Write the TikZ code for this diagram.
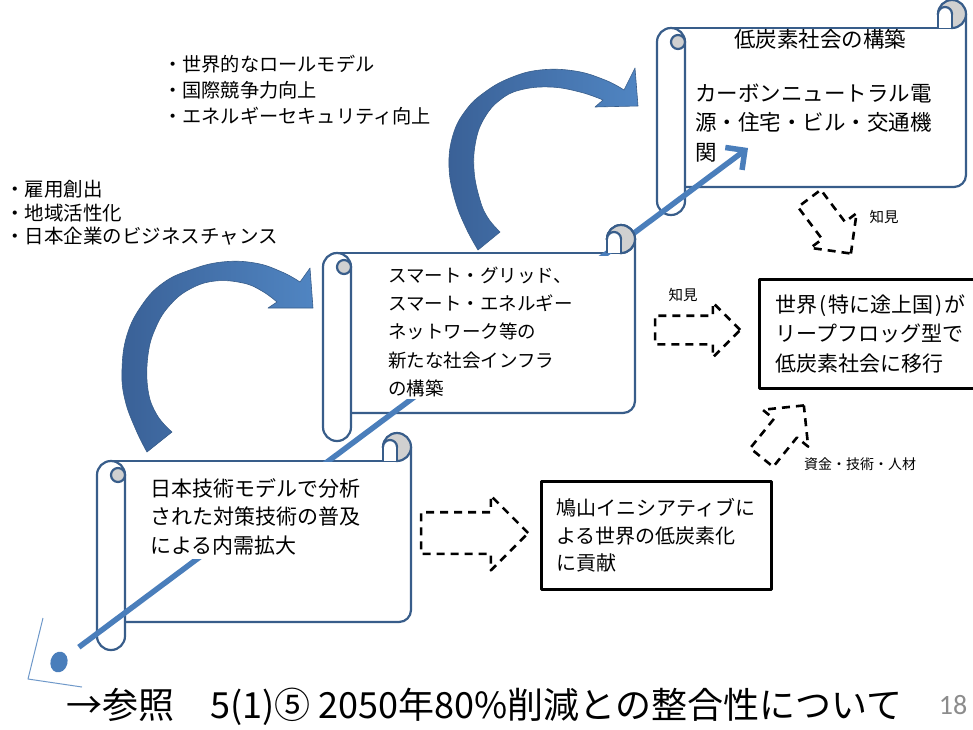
\documentclass[tikz,border=0pt]{standalone}
\usepackage{fontspec}
\setmainfont{Noto Sans CJK JP}
\newfontfamily\pagefont{Carlito}
\usetikzlibrary{arrows.meta, shapes.geometric, shapes.arrows}

\definecolor{scrollblue}{HTML}{385D8A}
\definecolor{rollgray}{HTML}{D0D0D0}
\definecolor{linkblue}{HTML}{4A7EBB}
\definecolor{arrowdark}{HTML}{3A6197}
\definecolor{arrowlight}{HTML}{5085C2}
\definecolor{pagegray}{HTML}{8C8C8C}

% top right roll of a scroll: x1, y0
\newcommand{\scrollroll}[2]{
  \filldraw[scrollline, fill=rollgray] ({#1-14},{#2+14}) circle[radius=14pt];
  \filldraw[scrollline, fill=white] ({#1-21},{#2+14}) circle[radius=7pt];
  \fill[white] ({#1-28},{#2+14}) rectangle ({#1-14},{#2+28});
  \draw[scrollline] ({#1-28},{#2+14}) -- ({#1-28},{#2+28});
  \draw[scrollline] ({#1-14},{#2+14}) -- ({#1-14},{#2+28});
}
% whole scroll: x0, y0, x1, y1
\newcommand{\scrollbody}[4]{
  \fill[white] ({#1+14},{#2+28}) -- ({#3-14},{#2+28}) -- ({#3-14},{#2+14})
    -- ({#3},{#2+14}) -- ({#3},{#4-28}) -- ({#1+14},{#4-28}) -- cycle;
  \draw[scrollline] ({#1+14},{#2+28}) -- ({#3-14},{#2+28});
  \draw[scrollline, rounded corners=12pt] ({#3},{#2+14}) -- ({#3},{#4-28}) -- ({#1+28},{#4-28});
  \scrollroll{#3}{#2}
  \filldraw[scrollline, fill=white, rounded corners=13.9pt] (#1,{#2+28}) rectangle ({#1+28},#4);
  \filldraw[scrollline, fill=rollgray] ({#1+21},{#2+42}) circle[radius=7pt];
}

\begin{document}
\begin{tikzpicture}[x=1pt, y=-1pt, line join=round,
    scrollline/.style={draw=scrollblue, line width=2.2pt},
    scrolltext/.style={anchor=north west, fill=white, inner xsep=#1, inner ysep=0pt, align=left},
    curvearrow/.style={left color=arrowdark, right color=arrowlight, draw=scrollblue, line width=0.6pt},
    linkline/.style={linkblue, line width=5.5pt, shorten <=15pt, -{Straight Barb[length=14pt,width=28pt]}},
    resultbox/.style={anchor=north west, draw=black, line width=2.5pt, fill=white, inner xsep=16pt, align=left},
    dasharrow/.style={single arrow, draw=black, line width=2.6pt, dash pattern=on 8pt off 6pt,
      single arrow tip angle=90, single arrow head indent=0pt, inner xsep=0pt, minimum width=0pt, anchor=tip},
    smalltext/.style={font=\fontsize{14.5}{16}\selectfont, inner sep=0pt}]
\useasboundingbox (0,0) rectangle (973,729);

% define the scrolls
\scrollbody{657}{0}{966}{215}
\scrollbody{323}{225}{635}{441}
\scrollbody{97}{433}{411}{650}

% define the curved arrows
\path[curvearrow] plot[smooth, tension=0.7] coordinates {(147,452) (136,430) (125,400) (122,370) (127,335)
    (142,305) (163,283) (190,270) (222,262) (255,263) (282,272) (300,282)}
  -- (310,268) -- (313,308) -- (268,308)
  -- plot[smooth, tension=0.7] coordinates {(277,302) (262,291) (243,283) (215,281) (190,289)
    (170,305) (156,327) (148,355) (148,390) (157,415) (172,432)} -- cycle;
\path[curvearrow] plot[smooth, tension=0.7] coordinates {(478,250) (466,228) (455,200) (449,167) (453,135)
    (466,110) (485,92) (510,78) (540,70) (575,71) (605,80) (624,90)}
  -- (635,68) -- (638,106) -- (595,107)
  -- plot[smooth, tension=0.7] coordinates {(603,100) (580,92) (550,87) (520,90) (500,100)
    (485,117) (476,140) (474,170) (480,200) (488,218) (500,232)} -- cycle;

% define the link
\node[ellipse, fill=linkblue, inner sep=0pt, minimum width=17pt, minimum height=21pt, rotate=-15] (origin) at (59,662) {};
\coordinate (goal) at (748,148);
\draw[linkline] (origin) -- (goal);
\draw[linkblue!80, line width=1pt] (43,618) -- (28,679) -- (82,687);

% text on the scrolls
\node[scrolltext=10pt, text width=220pt, font=\fontsize{21}{28.5}\selectfont] (domestic) at (140,462)
  {\rule{0pt}{34pt}日本技術モデルで分析\\された対策技術の普及\\による内需拡大\rule[-6pt]{0pt}{6pt}};
\node[scrolltext=13pt, text width=224pt, font=\fontsize{18.5}{28.3}\selectfont] (infra) at (375,256)
  {\rule{0pt}{26pt}スマート・グリッド、\\スマート・エネルギー\\ネットワーク等の\\新たな社会インフラ\\の構築\rule[-4pt]{0pt}{4pt}};
\scrollroll{635}{225}
\node[font=\fontsize{21.5}{29.5}\selectfont] (lowcarbon) at (820,39) {低炭素社会の構築};
\node[anchor=west, align=left, inner sep=0pt, font=\fontsize{21.5}{29.5}\selectfont] (neutral) at (695,123)
  {カーボンニュートラル電\\源・住宅・ビル・交通機\\関};

% define the boxes
\node[resultbox, text width=200pt, minimum height=109pt, font=\fontsize{21}{29.5}\selectfont] (world) at (758,278)
  {世界\hspace{2pt}(\hspace{2pt}特に途上国\hspace{2pt})\hspace{2pt}が\\リープフロッグ型で\\低炭素社会に移行};
\node[resultbox, inner xsep=15pt, text width=200pt, minimum height=108pt, font=\fontsize{20}{27.5}\selectfont] (hatoyama) at (540,480)
  {鳩山イニシアティブに\\よる世界の低炭素化\\に貢献};

% define the dashed arrows
\node[dasharrow, minimum height=107pt, inner ysep=19.5pt, single arrow head extend=16.5pt] (toinitiative) at (530,533) {};
\node[dasharrow, minimum height=85pt, inner ysep=13pt, single arrow head extend=13pt] (toworld) at (742,330) {};
\node[dasharrow, minimum height=69pt, inner ysep=13pt, single arrow head extend=14.5pt, rotate=-53] (fromlowcarbon) at (852,255) {};
\node[dasharrow, minimum height=67pt, inner ysep=13.5pt, single arrow head extend=14.5pt, rotate=51] (fromworld) at (805,404) {};
\node[smalltext] (knowledgea) at (683,295) {知見};
\node[smalltext] (knowledgeb) at (884,217) {知見};
\node[smalltext, font=\fontsize{14}{16}\selectfont] (resources) at (860,464) {資金・技術・人材};

% define the benefits
\node[anchor=west, align=left, inner sep=0pt, font=\fontsize{19.2}{26}\selectfont] (benefitsa) at (163,90)
  {・世界的なロールモデル\\・国際競争力向上\\・エネルギーセキュリティ向上};
\node[anchor=west, align=left, inner sep=0pt, font=\fontsize{19.5}{23.5}\selectfont] (benefitsb) at (5,213)
  {・雇用創出\\・地域活性化\\・日本企業のビジネスチャンス};

% footer
\node[anchor=west, inner sep=0pt, font=\fontsize{36}{40}\selectfont] (reference) at (66,707)
  {→参照　5(1)⑤ 2050年80\%削減との整合性について};
\node[inner sep=0pt, text=pagegray, font=\pagefont\fontsize{28}{30}\selectfont] (pageno) at (953,705) {18};
\end{tikzpicture}
\end{document}
